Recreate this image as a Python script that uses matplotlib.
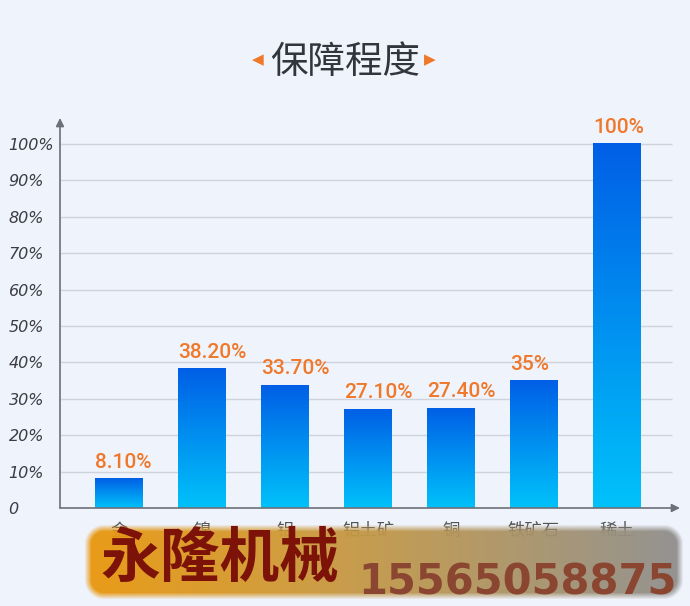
import numpy as np
import matplotlib.pyplot as plt
from matplotlib.colors import LinearSegmentedColormap

plt.rcParams['font.family'] = ['Noto Sans CJK SC', 'DejaVu Sans']

# data
categories = ['金', '镍', '铝', '铝土矿', '铜', '铁矿石', '稀土']
values = [8.1, 38.2, 33.7, 27.1, 27.4, 35, 100]
value_labels = ['8.10%', '38.20%', '33.70%', '27.10%', '27.40%', '35%', '100%']
yticks = [0, 10, 20, 30, 40, 50, 60, 70, 80, 90, 100]
ytick_labels = ['0'] + ['%d%%' % t for t in yticks[1:]]

bg = '#eff3fc'
orange = '#f0782a'
bar_cmap = LinearSegmentedColormap.from_list('bar', ['#00c2fa', '#005fe6'])

W, H = 690, 606
fig = plt.figure(figsize=(W / 100, H / 100), dpi=100, facecolor=bg)
ax = fig.add_axes([60 / W, 98 / H, 620 / W, 390 / H], facecolor=bg)

x = np.arange(len(categories))
ax.set_xlim(-0.711, 6.759)
ax.set_ylim(0, 107.1)

# grid lines
for t in yticks[1:]:
    ax.hlines(t, -0.711, 6.66, color='#cfd3dc', lw=1, zorder=1)

# bars with vertical gradient
width = 0.578
bars = ax.bar(x, values, width=width, color='none', zorder=2)
grad = np.linspace(0, 1, 256).reshape(-1, 1)
for b in bars:
    x0, y0 = b.get_x(), b.get_y()
    ax.imshow(grad, cmap=bar_cmap, aspect='auto', origin='lower',
              extent=[x0, x0 + b.get_width(), y0, y0 + b.get_height()], zorder=2)

# labels sit left-aligned on the bar's left edge
for b, lab in zip(bars, value_labels):
    ax.annotate(lab, (b.get_x(), b.get_height()), xytext=(0, 5), textcoords='offset points',
                ha='left', va='bottom', color=orange, fontsize=15,
                fontweight='medium', family=['Roboto', 'DejaVu Sans'], zorder=3)

# axes with arrows
for s in ax.spines.values():
    s.set_visible(False)
ax.annotate('', xy=(6.759, 0), xytext=(-0.711, 0),
            arrowprops=dict(arrowstyle='-|>', color='#6d7078', lw=1.2,
                            mutation_scale=12, shrinkA=0, shrinkB=0), zorder=4)
ax.annotate('', xy=(-0.711, 107.1), xytext=(-0.711, 0),
            arrowprops=dict(arrowstyle='-|>', color='#6d7078', lw=1.2,
                            mutation_scale=12, shrinkA=0, shrinkB=0), zorder=4)

ax.set_yticks(yticks)
ax.set_yticklabels(ytick_labels, fontstyle='italic', fontsize=11.5, color='#3c3c44',
                   family=['DejaVu Sans'], ha='left')
ax.tick_params(axis='y', length=0, pad=37)
ax.set_xticks(x)
ax.set_xticklabels(categories, fontsize=12.5, color='#555555')
ax.tick_params(axis='x', length=0, pad=10)

# title
fig.text(0.5, 1 - 62 / H, '保障程度', ha='center', va='center', fontsize=27, color='#33353c')
fig.text(258 / W, 1 - 60 / H, '◀', ha='center', va='center', fontsize=11, color=orange,
         family=['DejaVu Sans'])
fig.text(430 / W, 1 - 60 / H, '▶', ha='center', va='center', fontsize=11, color=orange,
         family=['DejaVu Sans'])

# watermark banner: rounded box with a soft (feathered) edge
bw, bh = 604, 80
bax = fig.add_axes([82 / W, 4 / H, bw / W, bh / H])
bax.axis('off')
px, py = np.meshgrid(np.arange(bw) + 0.5, np.arange(bh) + 0.5)
cx, cy, hx, hy, r = bw / 2, bh / 2, 296, 34, 16
qx = np.abs(px - cx) - (hx - r)
qy = np.abs(py - cy) - (hy - r)
dist = np.hypot(np.maximum(qx, 0), np.maximum(qy, 0)) + np.minimum(np.maximum(qx, qy), 0) - r
alpha = np.clip(0.5 - dist / 7, 0, 1) * 0.95
wm_cmap = LinearSegmentedColormap.from_list('wm', ['#ea960a', '#d09a35', '#b09460', '#8e8e8e'])
rgba = wm_cmap(px / bw)
rgba[..., 3] = alpha
bax.imshow(rgba, extent=[0, 1, 0, 1], aspect='auto', origin='lower')
bax.set_xlim(0, 1)
bax.set_ylim(0, 1)
bax.text(0.03, 0.52, '永隆机械', fontsize=43, fontweight='black', color='#7c1208',
         va='center', ha='left')
bax.text(0.985, 0.24, '15565058875', fontsize=30, fontweight='bold', color='#8a4630',
         va='center', ha='right', family=['DejaVu Sans'])

fig.savefig('out.png', dpi=100, facecolor=bg)
